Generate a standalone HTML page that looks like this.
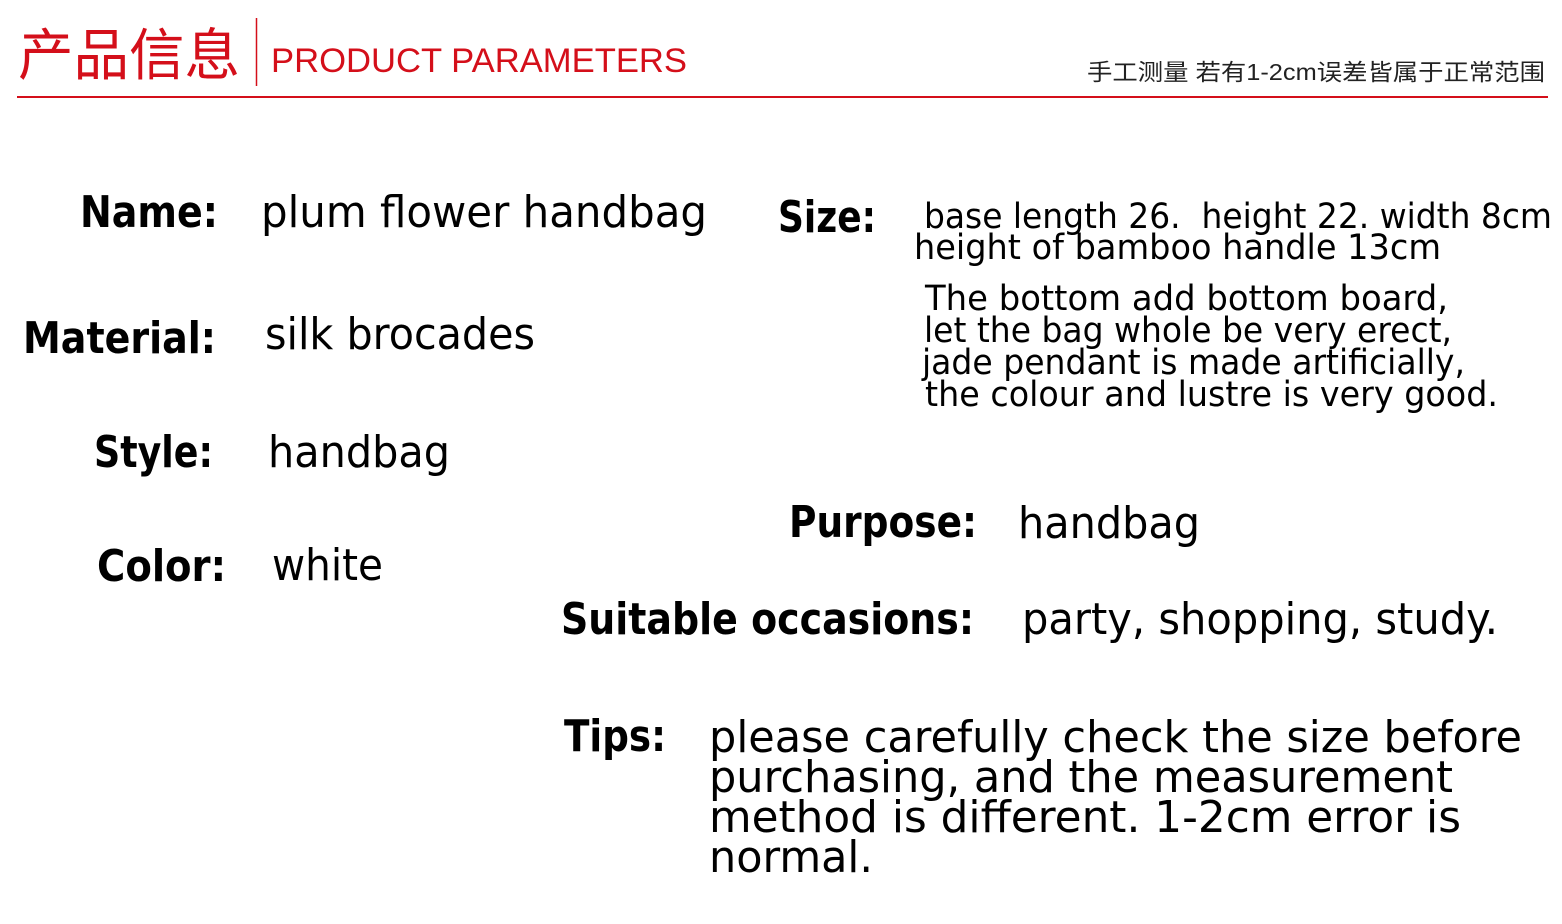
<!DOCTYPE html>
<html><head><meta charset="utf-8"><style>
html,body{margin:0;padding:0;background:#fff;width:1562px;height:924px;overflow:hidden}
svg text{font-family:"DejaVu Sans","Liberation Sans",sans-serif;fill:#000}
.b{font-weight:bold}
</style></head><body>
<svg width="1562" height="924" xmlns="http://www.w3.org/2000/svg">
<text x="18" y="75" style="font-family:'Noto Sans CJK SC',sans-serif;fill:#d40f1a;font-size:56px" textLength="222" lengthAdjust="spacingAndGlyphs">产品信息</text>
<line x1="256.5" y1="18" x2="256.5" y2="86" stroke="#d40f1a" stroke-width="1.5"/>
<text x="271" y="72" style="font-family:'Liberation Sans',sans-serif;fill:#d40f1a;font-size:34px" textLength="416" lengthAdjust="spacingAndGlyphs">PRODUCT PARAMETERS</text>
<text x="1087" y="80" style="font-family:'Liberation Sans','Noto Sans CJK SC',sans-serif;fill:#222;font-size:23px" textLength="458" lengthAdjust="spacingAndGlyphs">手工测量 若有1-2cm误差皆属于正常范围</text>
<line x1="17" y1="97" x2="1548" y2="97" stroke="#d40f1a" stroke-width="2"/>

<g font-size="44">
<text class="b" x="80" y="227" textLength="138" lengthAdjust="spacingAndGlyphs">Name:</text>
<text x="261" y="227" textLength="446" lengthAdjust="spacingAndGlyphs">plum flower handbag</text>
<text class="b" x="778" y="232" textLength="98" lengthAdjust="spacingAndGlyphs">Size:</text>
<text class="b" x="23" y="353" textLength="193" lengthAdjust="spacingAndGlyphs">Material:</text>
<text x="265" y="349" textLength="270" lengthAdjust="spacingAndGlyphs">silk brocades</text>
<text class="b" x="94" y="467" textLength="119" lengthAdjust="spacingAndGlyphs">Style:</text>
<text x="268" y="467" textLength="182" lengthAdjust="spacingAndGlyphs">handbag</text>
<text class="b" x="789" y="537" textLength="188" lengthAdjust="spacingAndGlyphs">Purpose:</text>
<text x="1018" y="538" textLength="182" lengthAdjust="spacingAndGlyphs">handbag</text>
<text class="b" x="97" y="581" textLength="129" lengthAdjust="spacingAndGlyphs">Color:</text>
<text x="272" y="580" textLength="111" lengthAdjust="spacingAndGlyphs">white</text>
<text class="b" x="561" y="634" textLength="413" lengthAdjust="spacingAndGlyphs">Suitable occasions:</text>
<text x="1022" y="634" textLength="476" lengthAdjust="spacingAndGlyphs">party, shopping, study.</text>
<text class="b" x="564" y="751" textLength="102" lengthAdjust="spacingAndGlyphs">Tips:</text>
<text x="709" y="752" textLength="813" lengthAdjust="spacingAndGlyphs">please carefully check the size before</text>
<text x="709" y="792" textLength="744" lengthAdjust="spacingAndGlyphs">purchasing, and the measurement</text>
<text x="709" y="832" textLength="752" lengthAdjust="spacingAndGlyphs">method is different. 1-2cm error is</text>
<text x="709" y="872" textLength="164" lengthAdjust="spacingAndGlyphs">normal.</text>
</g>
<g font-size="35">
<text x="924" y="228" textLength="628" lengthAdjust="spacingAndGlyphs">base length 26.&#160; height 22. width 8cm</text>
<text x="914" y="259" textLength="527" lengthAdjust="spacingAndGlyphs">height of bamboo handle 13cm</text>
<text x="925" y="310" textLength="523" lengthAdjust="spacingAndGlyphs">The bottom add bottom board,</text>
<text x="924" y="342" textLength="528" lengthAdjust="spacingAndGlyphs">let the bag whole be very erect,</text>
<text x="922" y="374" textLength="543" lengthAdjust="spacingAndGlyphs">jade pendant is made artificially,</text>
<text x="925" y="406" textLength="573" lengthAdjust="spacingAndGlyphs">the colour and lustre is very good.</text>
</g>
</svg>
</body></html>
